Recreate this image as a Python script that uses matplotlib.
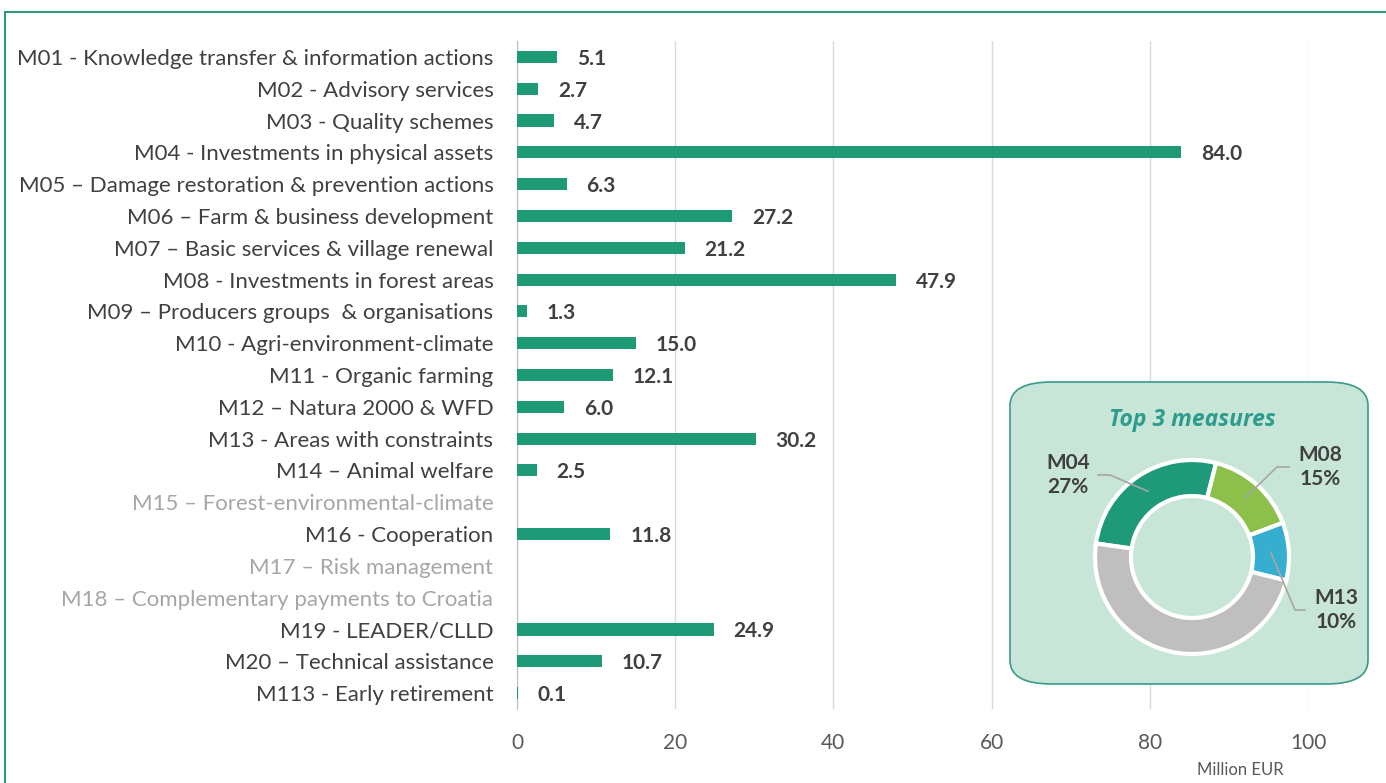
import numpy as np
import matplotlib
matplotlib.use("Agg")
import matplotlib.pyplot as plt
from matplotlib.patches import FancyBboxPatch, Rectangle

plt.rcParams['font.family'] = ['Lato', 'DejaVu Sans']

measures = [
    "M01 - Knowledge transfer & information actions",
    "M02 - Advisory services",
    "M03 - Quality schemes",
    "M04 - Investments in physical assets",
    "M05 \u2013 Damage restoration & prevention actions",
    "M06 \u2013 Farm & business development",
    "M07 \u2013 Basic services & village renewal",
    "M08 - Investments in forest areas",
    "M09 \u2013 Producers groups  & organisations",
    "M10 - Agri-environment-climate",
    "M11 - Organic farming",
    "M12 \u2013 Natura 2000 & WFD",
    "M13 - Areas with constraints",
    "M14 \u2013 Animal welfare",
    "M15 \u2013 Forest-environmental-climate",
    "M16 - Cooperation",
    "M17 \u2013 Risk management",
    "M18 \u2013 Complementary payments to Croatia",
    "M19 - LEADER/CLLD",
    "M20 \u2013 Technical assistance",
    "M113 - Early retirement",
]
values = [5.1, 2.7, 4.7, 84.0, 6.3, 27.2, 21.2, 47.9, 1.3, 15.0, 12.1, 6.0,
          30.2, 2.5, None, 11.8, None, None, 24.9, 10.7, 0.1]

top3_labels = ["M04", "M08", "M13"]

bar_color = "#1f9a77"
text_dark = "#404040"
text_light = "#a6a6a6"

W, H = 1386, 783
fig = plt.figure(figsize=(W / 100, H / 100), dpi=100)
fig.patch.set_facecolor("white")

# outer green frame (only top and left edges visible)
fig.patches.append(Rectangle((5 / W, -0.05), 1.2, (H - 12) / H + 0.05,
                             transform=fig.transFigure, fill=False,
                             edgecolor="#2e9a78", linewidth=1.5))

ax = fig.add_axes([517 / W, 1 - 709 / H, (1308 - 517) / W, (709 - 41) / H])
y = np.arange(len(measures))
vals = np.array([np.nan if v is None else v for v in values])
ax.barh(y, np.nan_to_num(vals), height=0.38, color=bar_color, zorder=3)
for i, v in enumerate(values):
    if v is not None:
        ax.text(v + 2.5, i, f"{v:.1f}", va="center_baseline", ha="left",
                fontsize=15, fontweight="bold", color=text_dark)

ax.set_ylim(len(measures) - 0.5, -0.5)
ax.set_xlim(0, 100)
ax.set_yticks(y)
ax.set_yticklabels(measures, fontsize=16)
for lbl, v in zip(ax.get_yticklabels(), values):
    lbl.set_color(text_light if v is None else text_dark)
ax.set_xticks([0, 20, 40, 60, 80, 100])
ax.tick_params(axis="x", labelsize=15, colors="#595959", length=0, pad=17)
ax.tick_params(axis="y", length=0, pad=17)
ax.grid(axis="x", color="#d9d9d9", linewidth=1, zorder=0)
for s in ["top", "right", "bottom"]:
    ax.spines[s].set_visible(False)
ax.spines["left"].set_color("#bfbfbf")
fig.text(1240 / W, 1 - 770 / H, "Million EUR", ha="center", va="center",
         fontsize=12, color="#595959")

# inset box with donut
bx0, by0, bx1, by1 = 1010, 382, 1368, 684
fig.patches.append(FancyBboxPatch((bx0 / W, 1 - by1 / H), (bx1 - bx0) / W, (by1 - by0) / H,
                                  boxstyle="round,pad=0,rounding_size=0.03",
                                  transform=fig.transFigure, facecolor="#c8e6d8",
                                  edgecolor="#3a9a8a", linewidth=1.2, zorder=5))
pax = fig.add_axes([bx0 / W, 1 - by1 / H, (bx1 - bx0) / W, (by1 - by0) / H], zorder=6)
pax.axis("off")

total = np.nansum(vals)
top3_vals = [values[i] for i, m in enumerate(measures) if m.split(" ")[0] in top3_labels]
others = total - sum(top3_vals)
pie_vals = top3_vals + [others]
cx, cy, r_out, r_in = 1192, H - 557, 97, 61
wedges, _ = pax.pie(pie_vals, colors=["#1e9a78", "#8cc04b", "#35aecf", "#bfbfbf"],
                    startangle=172, counterclock=False, center=(cx, cy), radius=r_out,
                    wedgeprops=dict(width=r_out - r_in, edgecolor="white", linewidth=3))
pax.set_xlim(bx0, bx1)
pax.set_ylim(H - by1, H - by0)
pax.set_aspect("equal")

pax.text(cx, H - 420, "Top 3 measures", ha="center", va="center", fontsize=16.5,
         fontweight="bold", fontstyle="italic", color="#2e9c8c",
         family=["Open Sans", "DejaVu Sans"])

label_pos = [(1068, 475, (1110, 475), (1098, 475)),
             (1320, 467, (1277, 467), (1289, 467)),
             (1336, 610, (1295, 610), (1305, 610))]
r_mid = (r_out + r_in) / 2
for w, name, v, (lx, ly, knee, end) in zip(wedges, top3_labels, top3_vals, label_pos):
    ang = np.deg2rad((w.theta1 + w.theta2) / 2)
    sx, sy = cx + r_mid * np.cos(ang), cy + r_mid * np.sin(ang)
    pax.plot([sx, knee[0], end[0]], [sy, H - knee[1], H - end[1]],
             color="#a6a6a6", linewidth=1.2)
    pax.text(lx, H - ly, f"{name}\n{v / total * 100:.0f}%", ha="center", va="center",
             fontsize=15, fontweight="bold", color=text_dark, linespacing=1.25)

fig.savefig("out.png", dpi=100)
